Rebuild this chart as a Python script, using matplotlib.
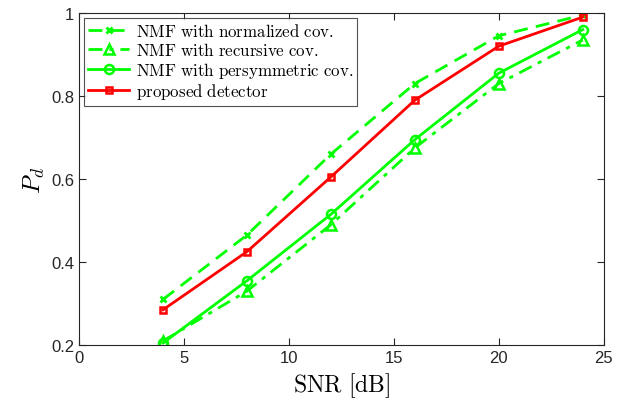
import matplotlib
matplotlib.use('Agg')
import matplotlib.pyplot as plt

plt.rcParams['mathtext.fontset'] = 'cm'
plt.rcParams['font.family'] = ['Liberation Sans', 'DejaVu Sans']

snr = [4, 8, 12, 16, 20, 24]
pd_normalized = [0.31, 0.465, 0.66, 0.83, 0.945, 0.995]
pd_recursive = [0.21, 0.33, 0.49, 0.675, 0.83, 0.935]
pd_persym = [0.205, 0.355, 0.515, 0.695, 0.855, 0.96]
pd_proposed = [0.285, 0.425, 0.605, 0.79, 0.92, 0.99]

labels = [r'$\mathrm{NMF\ with\ normalized\ cov.}$',
          r'$\mathrm{NMF\ with\ recursive\ cov.}$',
          r'$\mathrm{NMF\ with\ persymmetric\ cov.}$',
          r'$\mathrm{proposed\ detector}$']

fig = plt.figure(figsize=(6.18, 4.10), dpi=100)
ax = fig.add_axes([0.128, 0.156, 0.849, 0.810])

green = (0, 1, 0)
red = (1, 0, 0)
ax.plot(snr, pd_normalized, color=green, ls=(0, (5, 3)), lw=2, marker='x', ms=5, mew=2, label=labels[0])
ax.plot(snr, pd_recursive, color=green, ls=(0, (5, 2.5, 1.5, 2.5)), lw=2, marker='^', ms=7, mfc='none', mew=1.8, label=labels[1])
ax.plot(snr, pd_persym, color=green, ls='-', lw=2, marker='o', ms=6.5, mfc='none', mew=1.8, label=labels[2])
ax.plot(snr, pd_proposed, color=red, ls='-', lw=2, marker='s', ms=5, mfc='none', mew=1.8, label=labels[3])

ax.set_xlim(0, 25)
ax.set_ylim(0.2, 1)
ax.set_xticks([0, 5, 10, 15, 20, 25])
ax.set_yticks([0.2, 0.4, 0.6, 0.8, 1])
ax.set_yticklabels(['0.2', '0.4', '0.6', '0.8', '1'])
ax.tick_params(direction='in', top=True, right=True, labelsize=12, colors='#262626', length=5)
for s in ax.spines.values():
    s.set_color('#262626')
    s.set_linewidth(0.8)

ax.set_xlabel(r'$\mathrm{SNR\ [dB]}$', fontsize=17, labelpad=4)
ax.set_ylabel(r'$P_d$', fontsize=18, labelpad=3)

leg = ax.legend(loc='upper left', fontsize=12.2, frameon=True, fancybox=False,
                edgecolor='#262626', borderaxespad=0.3, handlelength=2.4,
                labelspacing=0.1, borderpad=0.25, handletextpad=0.4)
leg.get_frame().set_linewidth(0.8)

fig.savefig('out.png', dpi=100)
